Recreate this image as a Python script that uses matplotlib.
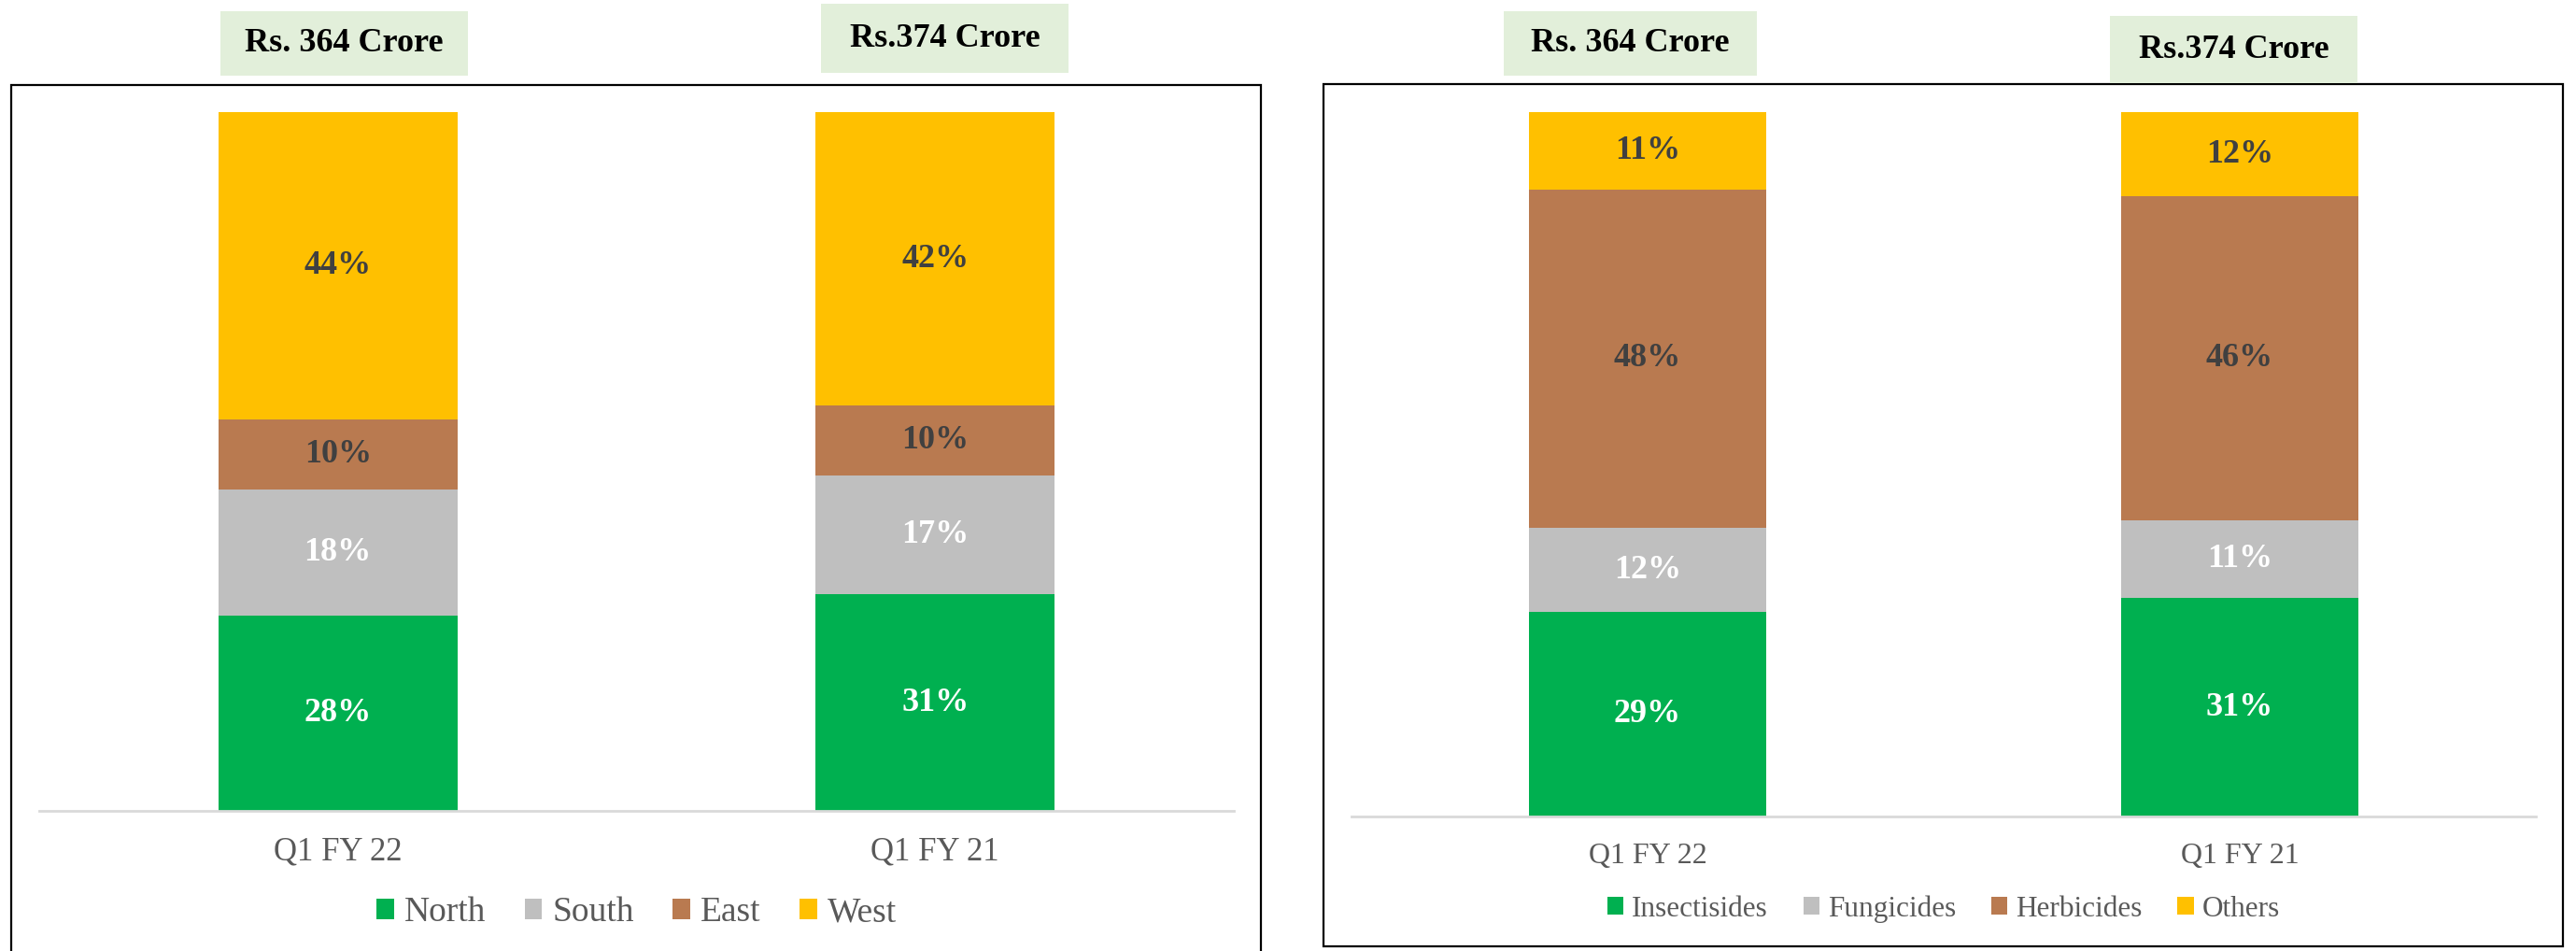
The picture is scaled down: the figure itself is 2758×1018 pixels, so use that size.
import matplotlib.pyplot as plt
from matplotlib.patches import Rectangle
import numpy as np

plt.rcParams['font.family'] = ['Liberation Serif', 'DejaVu Serif']

# Data
periods = ['Q1 FY 22', 'Q1 FY 21']
totals = ['Rs. 364 Crore', 'Rs.374 Crore']

region_names = ['North', 'South', 'East', 'West']
region_vals = [[28, 31], [18, 17], [10, 10], [44, 42]]

product_names = ['Insectisides', 'Fungicides', 'Herbicides', 'Others']
product_vals = [[29, 31], [12, 11], [48, 46], [11, 12]]

seg_colors = ['#00B050', '#BFBFBF', '#B97A50', '#FFC000']
lab_colors = ['white', 'white', '#404040', '#404040']

W, H = 2758, 1018
fig = plt.figure(figsize=(W / 100, H / 100), dpi=100)


def fbox(x0, y0, x1, y1):
    # pixel box (top-left origin) -> figure fraction rect
    return [x0 / W, 1 - y1 / H, (x1 - x0) / W, (y1 - y0) / H]


def frame(x0, y0, x1, y1):
    r = fbox(x0, y0, x1, y1)
    fig.patches.append(Rectangle((r[0], r[1]), r[2], r[3], transform=fig.transFigure,
                                 fill=False, edgecolor='black', linewidth=1.6, zorder=1))


def title_box(x0, y0, x1, y1, txt):
    r = fbox(x0, y0, x1, y1)
    fig.patches.append(Rectangle((r[0], r[1]), r[2], r[3], transform=fig.transFigure,
                                 facecolor='#E2EFDA', edgecolor='none', zorder=3))
    fig.text(r[0] + r[2] / 2, r[1] + r[3] / 2, txt, ha='center', va='center',
             fontsize=26, fontweight='bold', color='black', zorder=4)


def stacked(ax, names, vals, fs_tick, fs_leg, leg_y, hl, cs):
    x = np.arange(len(periods))
    bottom = np.zeros(len(periods))
    bars = []
    for i, (nm, v) in enumerate(zip(names, vals)):
        v = np.array(v, dtype=float)
        b = ax.bar(x, v, 0.40, bottom=bottom, color=seg_colors[i], label=nm, zorder=2)
        bars.append(b)
        for xi, vi, bi in zip(x, v, bottom):
            ax.text(xi, bi + vi / 2, '%d%%' % vi, ha='center', va='center',
                    fontsize=26, fontweight='bold', color=lab_colors[i], zorder=3)
        bottom += v
    ax.set_xlim(-0.5, 1.5)
    ax.set_ylim(0, 100)
    ax.set_yticks([])
    ax.set_xticks(x)
    ax.set_xticklabels(periods, fontsize=fs_tick, color='#595959')
    ax.tick_params(axis='x', length=0, pad=20)
    for s in ['top', 'left', 'right']:
        ax.spines[s].set_visible(False)
    ax.spines['bottom'].set_color('#D9D9D9')
    ax.spines['bottom'].set_linewidth(2)
    ax.patch.set_alpha(0)
    pos = ax.get_position()
    leg = ax.legend(handles=bars, loc='center', ncol=4, frameon=False,
                    bbox_to_anchor=(pos.x0 + pos.width / 2, 1 - leg_y / H),
                    bbox_transform=fig.transFigure, fontsize=fs_leg,
                    handlelength=hl, handleheight=hl, handletextpad=0.3,
                    columnspacing=cs, labelcolor='#595959')
    return leg


# Left panel: by region
frame(12, 91, 1350, 1030)
ax1 = fig.add_axes(fbox(42, 120, 1321, 868))
stacked(ax1, region_names, region_vals, 25, 27, 977, 0.5, 1.1)
title_box(236, 12, 501, 81, totals[0])
title_box(879, 4, 1144, 78, totals[1])

# Right panel: by product
frame(1417, 90, 2744, 1013)
ax2 = fig.add_axes(fbox(1447, 120, 2715, 874))
stacked(ax2, product_names, product_vals, 23, 22.5, 973, 0.55, 1.2)
title_box(1610, 12, 1881, 81, totals[0])
title_box(2259, 17, 2524, 89, totals[1])

fig.savefig('out.png', dpi=100)
